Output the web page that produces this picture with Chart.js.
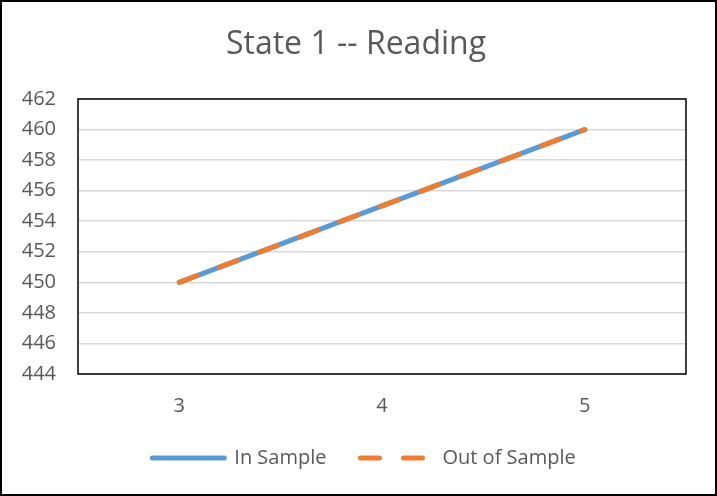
<!DOCTYPE html>
<html>
<head>
<meta charset="utf-8">
<script src="https://cdn.jsdelivr.net/npm/chart.js@4"></script>
<style>
  html, body { margin: 0; padding: 0; background: #fff; }
  #wrap { width: 717px; height: 496px; position: relative; }
</style>
</head>
<body>
<div id="wrap"><canvas id="chart" width="717" height="496"></canvas></div>
<script>
const CATEGORIES = ['3', '4', '5'];
const IN_SAMPLE = [450, 455, 460];
const OUT_OF_SAMPLE = [450, 455, 460];
const Y_MIN = 444;
const Y_MAX = 462;
const Y_STEP = 2;

const COLORS = {
  blue: '#5b9bd5',
  orange: '#ed7d31',
  text: '#595959',
  grid: '#d9d9d9'
};

Chart.defaults.font.family = "'Open Sans', sans-serif";

// plot frame + outer border like the Excel chart
const frames = {
  id: 'frames',
  afterLayout (chart) {
    // title and legend sit a little right of the layout centre in the original
    chart.titleBlock.left += 8;
    chart.titleBlock.right += 8;
    chart.legend.left += 16;
    chart.legend.right += 16;
  },
  beforeDatasetsDraw (chart) {
    const { ctx, chartArea: a } = chart;
    ctx.save();
    ctx.strokeStyle = '#000';
    ctx.lineWidth = 1.5;
    ctx.strokeRect(a.left, a.top, a.right - a.left, a.bottom - a.top);
    ctx.restore();
  },
  afterDraw (chart) {
    const ctx = chart.ctx;
    ctx.save();
    ctx.strokeStyle = '#000';
    ctx.lineWidth = 2;
    ctx.strokeRect(1, 1, chart.width - 2, chart.height - 2);
    ctx.restore();
  }
};

function legendLabels (chart) {
  const items = Chart.defaults.plugins.legend.labels.generateLabels(chart);
  items.forEach(item => {
    const ds = chart.data.datasets[item.datasetIndex];
    item.lineDash = ds.borderDash || [];
    item.lineWidth = ds.borderWidth;
    item.lineCap = 'round';
    item.strokeStyle = ds.borderColor;
  });
  return items;
}

const ctx = document.getElementById('chart').getContext('2d');
new Chart(ctx, {
  type: 'line',
  data: {
    labels: CATEGORIES,
    datasets: [
      {
        label: 'Out of Sample',
        data: OUT_OF_SAMPLE,
        borderColor: COLORS.orange,
        backgroundColor: COLORS.orange,
        borderWidth: 5,
        borderDash: [19, 24],
        borderCapStyle: 'round',
        pointRadius: 0,
        tension: 0
      },
      {
        label: 'In Sample',
        data: IN_SAMPLE,
        borderColor: COLORS.blue,
        backgroundColor: COLORS.blue,
        borderWidth: 5,
        borderCapStyle: 'round',
        pointRadius: 0,
        tension: 0
      }
    ]
  },
  options: {
    responsive: false,
    animation: false,
    layout: { padding: { left: 10, right: 31, top: 0, bottom: 18 } },
    plugins: {
      title: {
        display: true,
        text: 'State 1 -- Reading',
        color: COLORS.text,
        font: { size: 32, weight: 'normal' },
        padding: { top: 26, bottom: 34.6 }
      },
      legend: {
        position: 'bottom',
        reverse: true,
        labels: {
          color: COLORS.text,
          font: { size: 20 },
          usePointStyle: true,
          pointStyle: 'line',
          pointStyleWidth: 72,
          boxHeight: 20,
          padding: 34,
          generateLabels: legendLabels
        }
      },
      tooltip: { enabled: false }
    },
    scales: {
      x: {
        offset: true,
        grid: { display: false, drawTicks: false },
        border: { display: false },
        ticks: { color: COLORS.text, font: { size: 20 }, padding: 20 },
        afterFit (scale) { scale.height = 40; }
      },
      y: {
        min: Y_MIN,
        max: Y_MAX,
        grid: { color: COLORS.grid, lineWidth: 1.5, drawTicks: false },
        border: { display: false },
        ticks: { stepSize: Y_STEP, color: COLORS.text, font: { size: 20 }, padding: 22 },
        afterFit (scale) { scale.width = 68; }
      }
    }
  },
  plugins: [frames]
});
</script>
</body>
</html>
